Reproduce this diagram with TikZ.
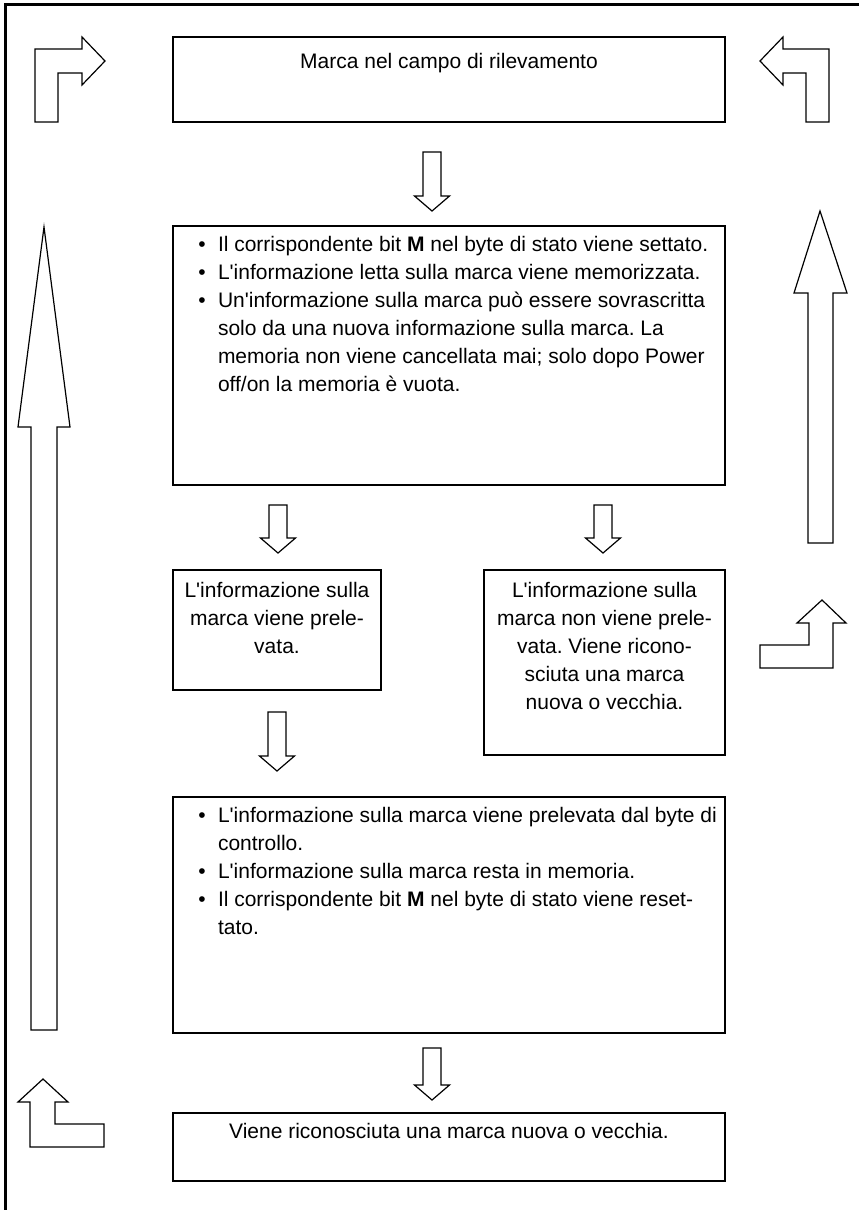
\documentclass[tikz,border=0pt]{standalone}
\usepackage{fontspec}
\newfontfamily\af{Liberation Sans}
\frenchspacing
\begin{document}
\begin{tikzpicture}[x=1pt,y=-1pt,
  box/.style={draw, line width=1.2pt, rectangle, inner sep=0pt, outer sep=0pt, anchor=north west},
  txt/.style={inner sep=0pt, outer sep=0pt, font=\af\fontsize{21}{28}\selectfont\frenchspacing},
  blk/.style={draw, line width=1.2pt, line join=miter, fill=white},
  bul/.style={inner sep=0pt, outer sep=0pt, anchor=base, font=\af\fontsize{21}{28}\selectfont}]
\useasboundingbox (0,0) rectangle (859,1210);
% frame
\draw[line width=3pt] (5,1212) -- (5,4) -- (861,4);
\newcommand\dnarrow[4]{\draw[blk] (#1-9,#2) -- (#1+9,#2) -- (#1+9,#3) -- (#1+17.5,#3) -- (#1,#4) -- (#1-17.5,#3) -- (#1-9,#3) -- cycle;}
% boxes
\node[box, minimum width=552pt, minimum height=85pt] (b1) at (173,37) {};
\node[box, minimum width=552pt, minimum height=259pt] (b2) at (173,226) {};
\node[box, minimum width=208pt, minimum height=120pt] (b3) at (173,570) {};
\node[box, minimum width=241pt, minimum height=185pt] (b4) at (484,570) {};
\node[box, minimum width=552pt, minimum height=236pt] (b5) at (173,797) {};
\node[box, minimum width=552pt, minimum height=68pt] (b6) at (173,1113) {};
% texts
\node[txt, anchor=north] (t1) at (449,53.5) {Marca nel campo di rilevamento};
\node[txt, anchor=north west, align=left] (t2) at (218,236.5) {Il corrispondente bit \textbf{M} nel byte di stato viene settato.\\
L'informazione letta sulla marca viene memorizzata.\\
Un'informazione sulla marca può essere sovrascritta\\
solo da una nuova informazione sulla marca. La\\
memoria non viene cancellata mai; solo dopo Power\\
off/on la memoria è vuota.};
\node[bul] (p21) at (202,251.5) {•};
\node[bul] (p22) at (202,279.5) {•};
\node[bul] (p23) at (202,307.5) {•};
\node[txt, anchor=north, align=center] (t3) at (277,582.5) {L'informazione sulla\\marca viene prele-\\vata.};
\node[txt, anchor=north, align=center] (t4) at (604.5,582.5) {L'informazione sulla\\marca non viene prele-\\vata. Viene ricono-\\sciuta una marca\\nuova o vecchia.};
\node[txt, anchor=north west, align=left] (t5) at (218,807.5) {L'informazione sulla marca viene prelevata dal byte di\\
controllo.\\
L'informazione sulla marca resta in memoria.\\
Il corrispondente bit \textbf{M} nel byte di stato viene reset-\\
tato.};
\node[bul] (p51) at (202,822.5) {•};
\node[bul] (p52) at (202,878.5) {•};
\node[bul] (p53) at (202,906.5) {•};
\node[txt, anchor=north] (t6) at (449,1123.5) {Viene riconosciuta una marca nuova o vecchia.};
% down block arrows
\dnarrow{432}{152}{196}{211}
\dnarrow{278}{505}{538}{553}
\dnarrow{603}{505}{538}{553}
\dnarrow{277}{712}{756}{771}
\dnarrow{432}{1048}{1085}{1100}
% bent arrows
\draw[blk] (35,122) -- (35,49) -- (82,49) -- (82,37) -- (105,61) -- (82,85) -- (82,73) -- (58,73) -- (58,122) -- cycle;
\draw[blk] (829,122) -- (829,49) -- (783,49) -- (783,37) -- (760,61) -- (783,85) -- (783,73) -- (806,73) -- (806,122) -- cycle;
\draw[blk] (760,668) -- (833,668) -- (833,623) -- (846,623) -- (822,600) -- (797,623) -- (809,623) -- (809,645) -- (760,645) -- cycle;
\draw[blk] (30,1147) -- (104,1147) -- (104,1124) -- (55,1124) -- (55,1102) -- (68,1102) -- (43,1079) -- (18,1102) -- (30,1102) -- cycle;
% long up arrows
\draw[blk] (31,1030) -- (31,427) -- (18,427) -- (44,227) -- (70,427) -- (57,427) -- (57,1030) -- cycle;
\draw[blk] (808,543) -- (808,293) -- (794,293) -- (820,211) -- (847,293) -- (833,293) -- (833,543) -- cycle;
\end{tikzpicture}
\end{document}
